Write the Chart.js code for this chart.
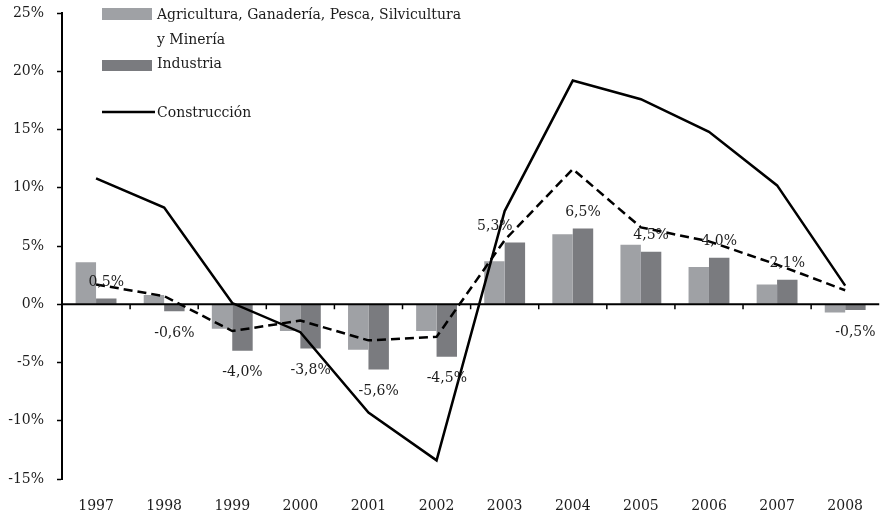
<!DOCTYPE html>
<html lang="es">
<head>
    <meta charset="UTF-8">
    <title>Crecimiento por sector</title>
    <script src="https://cdn.jsdelivr.net/npm/chart.js"></script>
    <style>
        body {
            margin: 0;
            padding: 0;
            background: #ffffff;
        }
        .chart-container {
            width: 882px;
            height: 516px;
            position: relative;
        }
    </style>
</head>
<body>
    <div class="chart-container">
        <canvas id="sectorChart"></canvas>
    </div>
    <script>
        // Datos (variación anual, %)
        const anios = ['1997', '1998', '1999', '2000', '2001', '2002', '2003', '2004', '2005', '2006', '2007', '2008'];
        const agricultura = [3.6, 0.8, -2.1, -2.3, -3.9, -2.3, 3.7, 6.0, 5.1, 3.2, 1.7, -0.7];
        const industria = [0.5, -0.6, -4.0, -3.8, -5.6, -4.5, 5.3, 6.5, 4.5, 4.0, 2.1, -0.5];
        const construccion = [10.8, 8.3, 0.1, -2.4, -9.3, -13.4, 8.0, 19.2, 17.6, 14.8, 10.2, 1.6];
        const total = [1.7, 0.7, -2.3, -1.4, -3.1, -2.8, 5.5, 11.6, 6.6, 5.4, 3.4, 1.2];
        const ticksY = [-15, -10, -5, 0, 5, 10, 15, 20, 25];
        // nombre de la primera serie tal como aparece en la leyenda (dos renglones)
        const nombreAgricultura = ['Agricultura, Ganadería, Pesca, Silvicultura', 'y Minería'];

        const FUENTE = '"DejaVu Serif", serif';
        const TAM = 14;
        const TEXTO = '#1c1c1c';

        function formatoPct(v) {
            return v.toFixed(1).replace('.', ',') + '%';
        }

        // Linea del cero y marcas de categoría sobre ella
        const ejeCero = {
            id: 'ejeCero',
            afterDatasetsDraw(chart) {
                const ctx = chart.ctx;
                const x = chart.scales.x;
                const y0 = chart.scales.y.getPixelForValue(0);
                const area = chart.chartArea;
                ctx.save();
                ctx.strokeStyle = '#000';
                ctx.lineWidth = 2;
                ctx.beginPath();
                ctx.moveTo(area.left, y0);
                ctx.lineTo(area.right, y0);
                ctx.stroke();
                ctx.lineWidth = 1.5;
                for (let i = 1; i < anios.length; i++) {
                    const bx = (x.getPixelForValue(i - 1) + x.getPixelForValue(i)) / 2;
                    ctx.beginPath();
                    ctx.moveTo(bx, y0);
                    ctx.lineTo(bx, y0 + 5);
                    ctx.stroke();
                }
                ctx.restore();
            }
        };

        // Etiquetas de la serie Industria
        const etiquetas = {
            id: 'etiquetas',
            afterDatasetsDraw(chart) {
                const ctx = chart.ctx;
                const meta = chart.getDatasetMeta(1);
                // la etiqueta de 2003 está corrida a la izquierda en el original
                const corrimiento = { 6: -20 };
                ctx.save();
                ctx.font = TAM + 'px ' + FUENTE;
                ctx.fillStyle = TEXTO;
                ctx.textAlign = 'center';
                ctx.textBaseline = 'middle';
                meta.data.forEach((bar, i) => {
                    const v = industria[i];
                    const y = v >= 0 ? bar.y - 16 : bar.y + 22;
                    ctx.fillText(formatoPct(v), bar.x + (corrimiento[i] || 0), y);
                });
                ctx.restore();
            }
        };

        // Leyenda dentro del área del gráfico
        const leyenda = {
            id: 'leyenda',
            afterDraw(chart) {
                const ctx = chart.ctx;
                const ds = chart.data.datasets;
                const x0 = chart.chartArea.left + 40;
                const tx = x0 + 55;
                ctx.save();
                ctx.font = TAM + 'px ' + FUENTE;
                ctx.textBaseline = 'middle';

                // Agricultura (dos renglones)
                ctx.fillStyle = ds[0].backgroundColor;
                ctx.fillRect(x0, 8, 50, 12);
                ctx.fillStyle = TEXTO;
                nombreAgricultura.forEach((t, k) => {
                    ctx.fillText(t, tx, 15 + k * 25);
                });

                // Industria
                ctx.fillStyle = ds[1].backgroundColor;
                ctx.fillRect(x0, 60, 50, 11);
                ctx.fillStyle = TEXTO;
                ctx.fillText(ds[1].label, tx, 64);

                // Construcción
                ctx.strokeStyle = ds[2].borderColor;
                ctx.lineWidth = 2.5;
                ctx.beginPath();
                ctx.moveTo(x0, 112);
                ctx.lineTo(x0 + 53, 112);
                ctx.stroke();
                ctx.fillText(ds[2].label, tx, 113);
                ctx.restore();
            }
        };

        const ctx = document.getElementById('sectorChart').getContext('2d');
        new Chart(ctx, {
            data: {
                labels: anios,
                datasets: [
                    {
                        type: 'bar',
                        label: nombreAgricultura.join(' '),
                        data: agricultura,
                        backgroundColor: '#9fa1a5',
                        categoryPercentage: 0.6,
                        barPercentage: 1.0,
                        order: 2
                    },
                    {
                        type: 'bar',
                        label: 'Industria',
                        data: industria,
                        backgroundColor: '#7a7b7f',
                        categoryPercentage: 0.6,
                        barPercentage: 1.0,
                        order: 2
                    },
                    {
                        type: 'line',
                        label: 'Construcción',
                        data: construccion,
                        borderColor: '#000',
                        borderWidth: 2.5,
                        pointRadius: 0,
                        tension: 0,
                        order: 1
                    },
                    {
                        type: 'line',
                        label: 'Total',
                        data: total,
                        borderColor: '#000',
                        borderWidth: 2.5,
                        borderDash: [9, 5],
                        pointRadius: 0,
                        tension: 0,
                        order: 1
                    }
                ]
            },
            options: {
                responsive: true,
                maintainAspectRatio: false,
                animation: false,
                layout: {
                    padding: { top: 13, right: 0, bottom: 0, left: 0 }
                },
                plugins: {
                    legend: { display: false },
                    tooltip: { enabled: false }
                },
                scales: {
                    x: {
                        afterFit: function(scale) {
                            scale.height = 37;
                        },
                        grid: { display: false, drawTicks: false },
                        border: { display: false },
                        ticks: {
                            color: TEXTO,
                            font: { family: FUENTE, size: TAM },
                            padding: 19,
                            maxRotation: 0
                        }
                    },
                    y: {
                        min: -15,
                        max: 25,
                        afterFit: function(scale) {
                            scale.width = 62;
                            scale.paddingTop = 0;
                            scale.paddingBottom = 0;
                        },
                        afterBuildTicks: function(scale) {
                            scale.ticks = ticksY.map(v => ({ value: v }));
                        },
                        grid: {
                            drawOnChartArea: false,
                            drawTicks: true,
                            tickLength: 5,
                            tickColor: '#000',
                            tickWidth: 1.5
                        },
                        border: { display: true, color: '#000', width: 2 },
                        ticks: {
                            color: TEXTO,
                            font: { family: FUENTE, size: TAM },
                            padding: 13,
                            callback: function(v) {
                                return v + '%';
                            }
                        }
                    }
                }
            },
            plugins: [ejeCero, etiquetas, leyenda]
        });
    </script>
</body>
</html>
